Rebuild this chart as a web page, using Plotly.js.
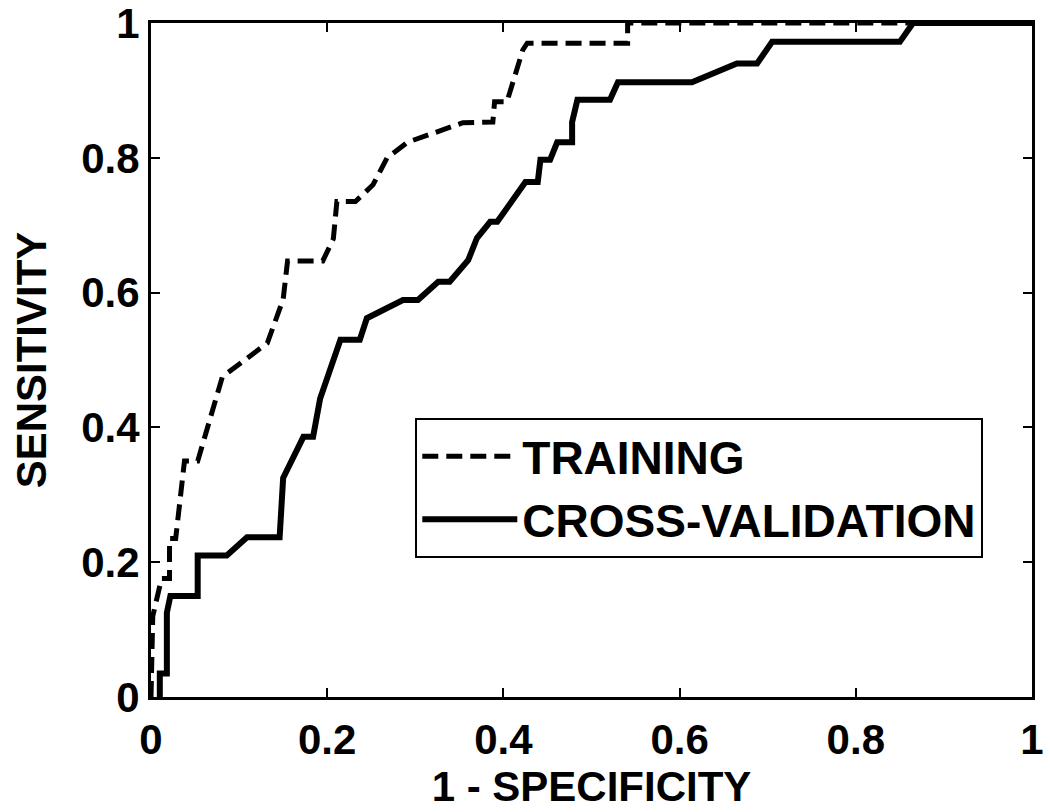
<!DOCTYPE html>
<html>
<head>
<meta charset="utf-8">
<script src="https://cdn.plot.ly/plotly-3.0.1.min.js"></script>
<style>
  body { margin: 0; background: #fff; }
  #roc { width: 1050px; height: 812px; }
</style>
</head>
<body>
<div id="roc"></div>
<script>
// ROC curves, values
const train_fpr = [0, 0.002, 0.012, 0.021, 0.021, 0.028, 0.038, 0.053, 0.081, 0.132, 0.150, 0.155, 0.195, 0.207, 0.211, 0.232, 0.252, 0.268, 0.291, 0.320, 0.354, 0.388, 0.390, 0.404, 0.422, 0.427, 0.541, 0.541, 1];
const train_tpr = [0, 0.12, 0.176, 0.176, 0.235, 0.235, 0.35, 0.35, 0.475, 0.525, 0.59, 0.647, 0.647, 0.68, 0.735, 0.735, 0.76, 0.80, 0.823, 0.837, 0.852, 0.853, 0.883, 0.883, 0.96, 0.97, 0.97, 1, 1];

const cv_fpr = [0.010, 0.010, 0.018, 0.018, 0.022, 0.053, 0.053, 0.086, 0.109, 0.146, 0.150, 0.173, 0.184, 0.192, 0.215, 0.237, 0.245, 0.286, 0.303, 0.326, 0.339, 0.360, 0.370, 0.385, 0.393, 0.425, 0.439, 0.442, 0.453, 0.461, 0.478, 0.478, 0.484, 0.521, 0.530, 0.614, 0.665, 0.688, 0.705, 0.850, 0.865, 1];
const cv_tpr = [0, 0.035, 0.035, 0.125, 0.15, 0.15, 0.21, 0.21, 0.237, 0.237, 0.325, 0.386, 0.386, 0.443, 0.53, 0.53, 0.562, 0.589, 0.589, 0.616, 0.616, 0.648, 0.681, 0.705, 0.705, 0.764, 0.764, 0.797, 0.797, 0.823, 0.823, 0.853, 0.886, 0.886, 0.912, 0.912, 0.94, 0.94, 0.972, 0.972, 1, 1];

const tick_vals = [0, 0.2, 0.4, 0.6, 0.8, 1];

const FONT = 'Liberation Sans, Arial, sans-serif';

const data = [
    {x: train_fpr, y: train_tpr, mode: 'lines', name: 'TRAINING',
     line: {color: '#000', width: 5, dash: '16px,8px'}},
    {x: cv_fpr, y: cv_tpr, mode: 'lines', name: 'CROSS-VALIDATION',
     line: {color: '#000', width: 6}}
];

const axis_common = {
    range: [0, 1],
    tickvals: tick_vals,
    ticks: 'inside',
    ticklen: 9,
    tickwidth: 2,
    tickcolor: '#000',
    showline: true,
    linecolor: '#000',
    linewidth: 3,
    mirror: 'ticks',
    showgrid: false,
    zeroline: false,
    ticklabeloverflow: 'allow',
    tickfont: {family: FONT, size: 42, color: '#000', weight: 'bold'}
};

const layout = {
    width: 1050,
    height: 812,
    margin: {l: 151, r: 18, t: 23, b: 115},
    paper_bgcolor: '#fff',
    plot_bgcolor: '#fff',
    font: {family: FONT, color: '#000'},
    xaxis: Object.assign({}, axis_common, {
        ticklabelstandoff: 4,
        title: {text: '1 - SPECIFICITY', standoff: 10,
                font: {family: FONT, size: 42, color: '#000', weight: 'bold'}}
    }),
    yaxis: Object.assign({}, axis_common, {
        title: {text: 'SENSITIVITY', standoff: 22,
                font: {family: FONT, size: 42, color: '#000', weight: 'bold'}}
    }),
    showlegend: true,
    legend: {
        x: 0.3,
        y: 0.414,
        xanchor: 'left',
        yanchor: 'top',
        bgcolor: '#fff',
        bordercolor: '#000',
        borderwidth: 2,
        itemwidth: 95,
        tracegroupgap: 0,
        font: {family: FONT, size: 46, color: '#000', weight: 'bold'}
    }
};

Plotly.newPlot('roc', data, layout, {staticPlot: true});
</script>
</body>
</html>
